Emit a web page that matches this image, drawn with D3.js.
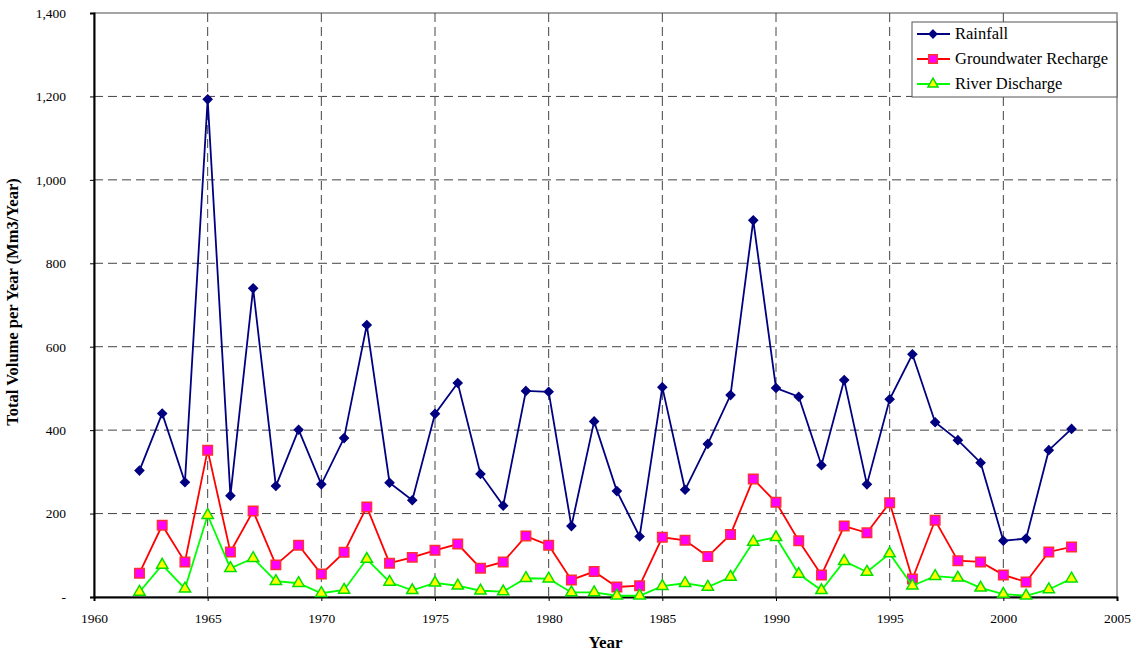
<!DOCTYPE html>
<meta charset="utf-8">
<script src="https://d3js.org/d3.v7.min.js"></script>
<style>
    body { margin: 0; background: #fff; }
    text { font-family: 'Liberation Serif', 'Times New Roman', serif; }
    .tick text { font-size: 13.5px; fill: #000; }
    .grid line { stroke: #444; stroke-dasharray: 9,5; stroke-width: 1; }
</style>
<div id="chart"></div>
<script>
    // data
    let years = d3.range(1962, 2004);
    let rainfall = [303, 440, 275, 1193, 243, 740, 266, 401, 270, 381, 652, 274, 232, 439,
        513, 295, 219, 494, 492, 170, 421, 254, 145, 503, 257, 367, 484, 903, 501, 480,
        316, 520, 270, 474, 582, 419, 376, 322, 135, 140, 352, 403];
    let recharge = [57, 172, 84, 352, 108, 206, 77, 124, 55, 107, 216, 81, 95, 112, 127, 69,
        84, 146, 124, 41, 61, 24, 27, 143, 136, 97, 150, 283, 227, 135, 53, 170, 154, 226,
        43, 184, 87, 84, 53, 36, 108, 120];
    let discharge = [12, 77, 20, 196, 69, 93, 38, 33, 9, 17, 91, 36, 16, 34, 27, 15, 13, 45,
        44, 11, 11, 3, 3, 26, 33, 24, 48, 132, 143, 55, 16, 86, 60, 104, 27, 50, 46, 22, 7,
        3, 18, 44];
    let xTicks = [1960, 1965, 1970, 1975, 1980, 1985, 1990, 1995, 2000, 2005];
    let yTicks = [0, 200, 400, 600, 800, 1000, 1200, 1400];
    let seriesNames = ["Rainfall", "Groundwater Recharge", "River Discharge"];

    let margin = {top: 13, right: 19, bottom: 58, left: 94},
        width = 1136 - margin.left - margin.right,
        height = 655 - margin.top - margin.bottom;

    let svg = d3.select("#chart")
        .append("svg")
        .attr("width", 1136)
        .attr("height", 655)
        .append("g")
        .attr("transform", "translate(" + margin.left + "," + margin.top + ")");

    let x = d3.scaleLinear().domain([1960, 2005]).range([0, width]);
    let y = d3.scaleLinear().domain([0, 1400]).range([height, 0]);

    // plot frame
    svg.append("rect")
        .attr("width", width).attr("height", height)
        .attr("fill", "none").attr("stroke", "#888").attr("stroke-width", 1.5);

    // grid
    svg.append("g").attr("class", "grid")
        .selectAll("line").data(yTicks.filter(d => d > 0 && d < 1400)).enter()
        .append("line")
        .attr("x1", 0).attr("x2", width)
        .attr("y1", d => y(d)).attr("y2", d => y(d));
    svg.append("g").attr("class", "grid")
        .selectAll("line").data(xTicks.filter(d => d > 1960 && d < 2005)).enter()
        .append("line")
        .attr("y1", 0).attr("y2", height)
        .attr("x1", d => x(d)).attr("x2", d => x(d));

    // axes
    let fmt = d3.format(",");
    let yAxis = svg.append("g")
        .call(d3.axisLeft(y).tickValues(yTicks).tickSize(4).tickPadding(24)
            .tickFormat(d => d === 0 ? "-" : fmt(d)));
    let xAxis = svg.append("g")
        .attr("transform", "translate(0," + height + ")")
        .call(d3.axisBottom(x).tickValues(xTicks).tickSize(4).tickPadding(12)
            .tickFormat(d3.format("d")));
    yAxis.select(".domain").attr("stroke", "#000").attr("stroke-width", 2);
    xAxis.select(".domain").attr("stroke", "#000").attr("stroke-width", 2);
    yAxis.selectAll(".tick text").attr("fill", "#222");
    xAxis.selectAll(".tick text").attr("fill", "#222");

    svg.append("text")
        .attr("x", width / 2).attr("y", height + 51)
        .attr("text-anchor", "middle")
        .style("font-weight", "bold").style("font-size", "17px")
        .text("Year");

    svg.append("text")
        .attr("transform", "rotate(-90)")
        .attr("x", -289).attr("y", -76)
        .attr("text-anchor", "middle")
        .style("font-weight", "bold").style("font-size", "16.5px")
        .text("Total Volume per Year (Mm3/Year)");

    let diamond = {
        draw: function (ctx, size) {
            let r = Math.sqrt(size) / 2 * 1.35;
            ctx.moveTo(0, -r); ctx.lineTo(r, 0); ctx.lineTo(0, r); ctx.lineTo(-r, 0); ctx.closePath();
        }
    };

    let series = [
        {name: seriesNames[0], values: rainfall, line: "#000080", fill: "#000080", stroke: "#000080", shape: diamond, size: 40},
        {name: seriesNames[1], values: recharge, line: "#ff0000", fill: "#ff00ff", stroke: "#ff3030", shape: d3.symbolSquare, size: 90},
        {name: seriesNames[2], values: discharge, line: "#00ff00", fill: "#ffff00", stroke: "#00e000", shape: d3.symbolTriangle, size: 55}
    ];

    let line = d3.line()
        .x((d, i) => x(years[i]))
        .y(d => y(d));

    for (let s of series) {
        svg.append("path")
            .datum(s.values)
            .attr("fill", "none")
            .attr("stroke", s.line)
            .attr("stroke-width", 1.8)
            .attr("d", line);

        svg.selectAll("pts")
            .data(s.values)
            .enter()
            .append("path")
            .attr("d", d3.symbol().type(s.shape).size(s.size))
            .attr("transform", (d, i) => "translate(" + x(years[i]) + "," + y(d) + ")")
            .attr("fill", s.fill)
            .attr("stroke", s.stroke)
            .attr("stroke-width", 1.5);
    }

    // legend
    let legend = svg.append("g").attr("transform", "translate(" + (912 - margin.left) + "," + (22 - margin.top) + ")");
    legend.append("rect")
        .attr("width", 205).attr("height", 75)
        .attr("fill", "#fff").attr("stroke", "#555").attr("stroke-width", 1);
    series.forEach(function (s, i) {
        let g = legend.append("g").attr("transform", "translate(0," + (12 + i * 25) + ")");
        g.append("line").attr("x1", 5).attr("x2", 38).attr("y1", 0).attr("y2", 0)
            .attr("stroke", s.line).attr("stroke-width", 1.8);
        g.append("path")
            .attr("d", d3.symbol().type(s.shape).size(s.size * 0.8))
            .attr("transform", "translate(21,0)")
            .attr("fill", s.fill).attr("stroke", s.stroke).attr("stroke-width", 1.5);
        g.append("text").attr("x", 43).attr("y", 5)
            .style("font-size", "16.5px")
            .text(s.name);
    });
</script>
